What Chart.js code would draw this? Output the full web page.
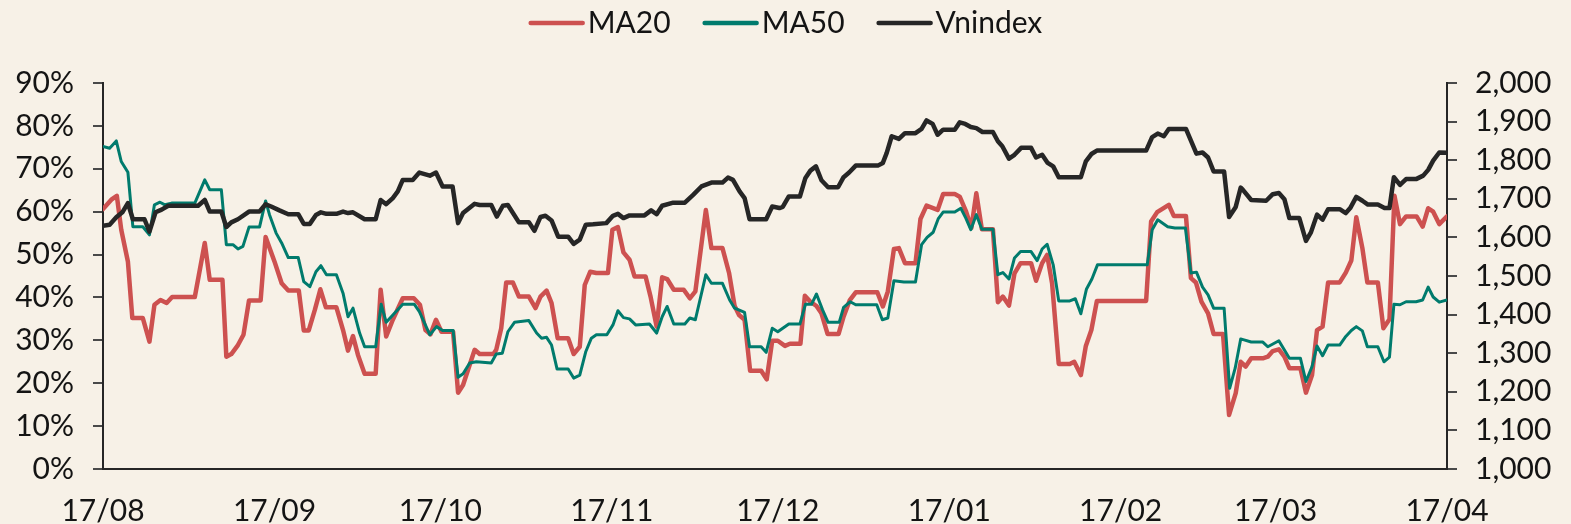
<!DOCTYPE html>
<html>
<head>
<meta charset="utf-8">
<title>MA20 / MA50 / Vnindex</title>
<script src="https://cdn.jsdelivr.net/npm/chart.js@4.4.1/dist/chart.umd.min.js"></script>
<style>
    html, body { margin: 0; padding: 0; background: #f7f1e7; }
    #wrap { width: 1571px; height: 524px; }
</style>
</head>
<body>
<div id="wrap"><canvas id="breadth-chart" width="1571" height="524"></canvas></div>
<script>
// x = days since 17/08
const monthDays = [0, 31, 61, 92, 122, 153, 184, 212, 243];
const monthLabels = ['17/08', '17/09', '17/10', '17/11', '17/12', '17/01', '17/02', '17/03', '17/04'];

// % of stocks above MA20
const ma20 = [
    [0, 60.6], [1.5, 62.8], [2.5, 63.7], [3.3, 55.8], [4.5, 48.4], [5.3, 35.2], [7.2, 35.2], [8.4, 29.7],
    [9.3, 38.3], [10.4, 39.4], [11.5, 38.7], [12.5, 40.1], [16.6, 40.1], [18.4, 52.7], [19.3, 44.1], [21.6, 44.1],
    [22.3, 26.2], [23.2, 26.8], [24.4, 28.9], [25.4, 31.3], [26.4, 39.3], [28.5, 39.3], [29.4, 54.1], [31.0, 48.4],
    [32.3, 43.3], [33.5, 41.6], [35.4, 41.6], [36.3, 32.3], [37.2, 32.3], [38.3, 37.1], [39.3, 41.9], [40.3, 37.7],
    [42.2, 37.7], [43.4, 32.4], [44.3, 27.6], [45.2, 31.0], [46.1, 26.6], [47.3, 22.2], [49.3, 22.2], [50.2, 41.8],
    [51.2, 30.9], [52.4, 34.8], [54.2, 39.8], [56.2, 39.8], [57.3, 38.3], [58.3, 32.4], [59.2, 31.4], [60.2, 34.8],
    [61.2, 32.0], [63.3, 32.0], [64.2, 17.8], [65.1, 19.6], [66.2, 23.9], [67.2, 27.8], [68.1, 26.8], [70.6, 26.8],
    [71.1, 27.8], [72.0, 32.8], [72.9, 43.5], [74.1, 43.5], [75.2, 40.2], [77.0, 40.2], [78.2, 37.5], [79.1, 40.2],
    [80.2, 41.6], [81.1, 38.7], [82.2, 30.5], [84.1, 30.5], [85.1, 26.8], [86.2, 28.5], [87.1, 42.9], [88.1, 46.0],
    [89.2, 45.7], [91.3, 45.7], [92.1, 55.8], [93.1, 56.4], [94.1, 50.5], [95.2, 48.8], [96.1, 44.9], [98.1, 44.9],
    [99.0, 40.2], [100.1, 33.2], [101.1, 44.7], [102.0, 44.3], [103.2, 41.8], [105.0, 41.8], [106.1, 39.8], [107.1, 41.4],
    [109.0, 60.4], [110.0, 51.5], [112.0, 51.5], [113.2, 45.7], [114.2, 38.0], [115.0, 35.9], [116.0, 34.8], [117.0, 22.9],
    [119.0, 22.9], [120.0, 20.9], [121.0, 29.9], [122.0, 29.9], [123.3, 28.7], [124.2, 29.2], [126.1, 29.2], [126.9, 40.4],
    [127.9, 39.0], [129.0, 38.0], [129.9, 36.3], [131.0, 31.5], [133.0, 31.5], [133.9, 35.5], [135.0, 39.3], [136.1, 41.2],
    [140.0, 41.2], [141.0, 37.9], [141.9, 41.4], [143.0, 51.3], [143.9, 51.5], [145.0, 48.0], [146.9, 48.0], [147.8, 58.3],
    [148.9, 61.4], [150.9, 60.4], [151.9, 64.1], [154.0, 64.1], [154.9, 63.5], [156.0, 60.2], [157.0, 56.2], [157.9, 64.3],
    [158.9, 55.9], [160.9, 55.9], [161.8, 38.9], [162.7, 40.2], [163.8, 38.1], [164.8, 45.6], [165.9, 48.0], [167.8, 48.0],
    [168.7, 43.9], [169.8, 48.0], [170.7, 49.9], [171.6, 43.3], [172.8, 24.5], [174.8, 24.5], [175.6, 25.0], [176.8, 21.9],
    [177.7, 28.7], [178.7, 32.4], [179.7, 39.2], [188.6, 39.2], [189.5, 57.7], [190.6, 59.9], [192.7, 61.6], [193.6, 59.0],
    [195.8, 59.0], [196.7, 44.5], [197.6, 43.5], [198.6, 39.0], [199.8, 36.3], [200.8, 31.5], [202.5, 31.5], [203.6, 12.6],
    [204.8, 17.7], [205.7, 25.0], [206.6, 23.9], [207.6, 25.8], [209.7, 25.8], [210.6, 26.2], [211.5, 27.5], [212.6, 27.9],
    [213.6, 26.2], [214.5, 23.5], [216.5, 23.5], [217.5, 17.8], [218.6, 21.9], [219.5, 32.4], [220.5, 33.2], [221.5, 43.5],
    [223.6, 43.5], [224.7, 45.8], [225.7, 48.6], [226.6, 58.7], [227.7, 51.5], [228.6, 43.5], [230.5, 43.5], [231.5, 32.8],
    [232.6, 34.9], [233.5, 63.7], [234.5, 57.1], [235.6, 58.9], [237.5, 58.9], [238.6, 56.5], [239.6, 60.8], [240.5, 60.0],
    [241.6, 57.1], [243, 58.9]
];

// % of stocks above MA50
const ma50 = [
    [0, 75.2], [1.2, 74.8], [2.4, 76.5], [3.3, 71.7], [4.5, 69.2], [5.4, 56.5], [7.2, 56.5], [8.4, 54.6],
    [9.3, 61.6], [10.3, 62.2], [11.2, 61.6], [12.4, 62.0], [16.6, 62.0], [18.4, 67.4], [19.3, 65.1], [21.4, 65.1],
    [22.3, 52.3], [23.5, 52.3], [24.4, 51.3], [25.3, 51.9], [26.4, 56.4], [28.3, 56.4], [29.4, 62.5], [30.1, 59.3],
    [31.3, 55.0], [32.3, 52.7], [33.5, 49.3], [35.3, 49.3], [36.3, 43.7], [37.4, 42.5], [38.5, 46.0], [39.4, 47.4],
    [40.4, 45.3], [42.2, 45.3], [43.4, 41.0], [44.3, 35.5], [45.2, 37.5], [46.4, 31.7], [47.3, 28.5], [49.3, 28.5],
    [50.3, 38.4], [51.2, 34.2], [54.2, 38.4], [56.3, 38.4], [57.2, 36.7], [59.1, 31.3], [60.3, 33.2], [61.4, 32.3],
    [63.3, 32.3], [64.2, 21.4], [65.1, 22.2], [66.3, 24.7], [67.5, 25.0], [70.2, 24.7], [71.1, 26.8], [72.2, 27.0],
    [73.2, 32.0], [74.4, 34.2], [77.0, 34.6], [78.4, 31.7], [79.3, 30.5], [80.2, 30.7], [81.1, 28.9], [82.1, 23.3],
    [84.1, 23.3], [85.1, 21.2], [86.2, 21.9], [87.3, 27.4], [88.3, 30.5], [89.2, 31.3], [91.1, 31.3], [92.2, 33.6],
    [93.1, 36.9], [94.1, 35.3], [95.2, 35.0], [96.3, 33.6], [98.8, 33.8], [100.1, 31.7], [101.1, 35.5], [102.0, 37.9],
    [103.2, 33.8], [105.2, 33.8], [106.1, 35.2], [107.1, 34.8], [109.0, 45.3], [110.0, 43.3], [112.0, 43.3], [113.3, 39.4],
    [114.2, 37.5], [116.0, 36.5], [116.9, 28.5], [119.0, 28.5], [119.9, 27.2], [121.0, 32.8], [122.0, 32.0], [124.0, 33.8],
    [126.0, 33.8], [127.0, 38.4], [128.1, 38.4], [129.0, 40.8], [130.1, 37.1], [131.1, 34.2], [133.1, 34.2], [133.9, 37.7],
    [135.1, 39.0], [136.1, 38.3], [139.9, 38.3], [140.9, 34.8], [141.9, 35.2], [143.0, 43.9], [144.8, 43.6], [146.9, 43.6],
    [148.0, 52.3], [149.0, 54.0], [150.1, 55.2], [151.0, 58.3], [151.9, 59.9], [154.0, 59.9], [155.1, 60.8], [156.0, 58.5],
    [156.9, 55.8], [157.9, 59.3], [158.9, 55.9], [160.9, 55.9], [161.8, 45.3], [162.7, 45.8], [163.8, 44.3], [164.8, 49.2],
    [165.9, 50.7], [167.8, 50.7], [168.9, 48.6], [169.8, 51.3], [170.7, 52.4], [171.8, 47.6], [172.8, 39.2], [174.8, 39.2],
    [175.8, 39.7], [176.8, 36.2], [177.8, 41.9], [178.8, 44.3], [179.8, 47.6], [188.8, 47.6], [189.7, 55.8], [190.7, 58.1],
    [192.5, 56.5], [193.8, 56.2], [195.7, 56.2], [196.7, 45.7], [197.7, 45.9], [198.8, 42.4], [199.8, 40.6], [200.8, 37.5],
    [202.7, 37.5], [203.7, 18.8], [204.7, 23.5], [205.7, 30.3], [206.3, 30.1], [207.6, 29.6], [209.7, 29.6], [210.6, 28.5],
    [212.6, 29.9], [214.5, 25.8], [216.5, 25.8], [217.5, 20.4], [218.6, 23.9], [219.5, 28.7], [220.5, 26.4], [221.5, 28.9],
    [223.6, 28.9], [224.7, 30.9], [225.7, 32.3], [226.6, 33.2], [227.7, 32.2], [228.6, 28.5], [230.5, 28.5], [231.6, 25.0],
    [232.6, 26.1], [233.4, 38.4], [234.5, 38.3], [235.6, 39.0], [237.4, 39.0], [238.6, 39.4], [239.6, 42.4], [240.5, 40.1],
    [241.6, 38.9], [243, 39.4]
];

// Vnindex, right axis
const vnindex = [
    [0, 1630], [1.2, 1633], [2.4, 1652], [3.5, 1665], [4.5, 1689], [5.4, 1647], [7.5, 1647], [8.4, 1615],
    [9.5, 1665], [10.6, 1672], [11.8, 1682], [17.2, 1682], [18.4, 1697], [19.3, 1667], [21.4, 1667], [22.3, 1627],
    [23.2, 1639], [24.4, 1647], [26.4, 1667], [28.3, 1667], [29.4, 1686], [30.4, 1680], [31.9, 1670], [33.5, 1660],
    [35.3, 1660], [36.3, 1635], [37.4, 1635], [38.5, 1658], [39.4, 1665], [40.4, 1661], [42.2, 1661], [43.4, 1667],
    [44.3, 1663], [45.2, 1665], [47.3, 1647], [49.3, 1647], [50.2, 1697], [51.2, 1686], [52.4, 1702], [53.3, 1719],
    [54.2, 1749], [56.0, 1749], [57.2, 1768], [59.1, 1760], [60.2, 1768], [61.4, 1732], [63.2, 1732], [64.2, 1637],
    [65.1, 1663], [67.2, 1687], [68.1, 1684], [70.2, 1684], [71.2, 1654], [72.3, 1682], [73.2, 1684], [75.2, 1639],
    [77.0, 1639], [78.0, 1617], [79.1, 1653], [80.0, 1656], [81.1, 1644], [82.3, 1602], [84.1, 1602], [85.1, 1583],
    [86.2, 1594], [87.3, 1633], [88.6, 1634], [91.0, 1637], [92.2, 1656], [93.1, 1661], [94.1, 1650], [95.2, 1657],
    [97.9, 1657], [99.1, 1670], [100.1, 1660], [101.1, 1682], [103.1, 1690], [105.2, 1690], [106.7, 1710], [108.2, 1732],
    [110.0, 1742], [112.0, 1742], [113.0, 1755], [113.9, 1749], [115.1, 1719], [116.0, 1702], [116.9, 1647], [119.9, 1647],
    [121.0, 1680], [122.3, 1676], [122.9, 1679], [124.0, 1706], [126.0, 1706], [127.0, 1754], [127.9, 1773], [128.9, 1784],
    [129.9, 1748], [131.1, 1730], [132.9, 1730], [133.9, 1756], [134.9, 1768], [136.1, 1786], [140.1, 1786], [141.0, 1793],
    [141.7, 1819], [142.6, 1862], [143.9, 1855], [145.0, 1870], [146.9, 1870], [148.0, 1881], [148.9, 1903], [150.0, 1894],
    [150.9, 1866], [151.9, 1879], [154.0, 1879], [154.9, 1898], [155.9, 1894], [156.9, 1886], [157.9, 1883], [159.0, 1873],
    [160.9, 1873], [161.8, 1849], [162.6, 1836], [163.8, 1804], [164.8, 1814], [166.0, 1832], [167.8, 1832], [168.7, 1807],
    [169.8, 1814], [170.8, 1793], [171.8, 1784], [172.8, 1756], [176.8, 1756], [177.7, 1797], [178.7, 1816], [179.7, 1825],
    [188.6, 1825], [189.7, 1860], [190.7, 1869], [191.8, 1862], [192.7, 1881], [195.8, 1881], [197.7, 1817], [198.8, 1820],
    [199.8, 1807], [200.8, 1771], [202.7, 1771], [203.6, 1653], [204.8, 1679], [205.7, 1729], [206.1, 1723], [207.6, 1697],
    [210.3, 1695], [211.5, 1712], [212.6, 1715], [213.6, 1699], [214.5, 1650], [216.3, 1650], [217.5, 1591], [218.4, 1613],
    [219.5, 1659], [220.5, 1646], [221.5, 1673], [223.6, 1673], [224.7, 1663], [225.5, 1676], [226.6, 1705], [227.7, 1695],
    [228.7, 1685], [230.5, 1685], [231.7, 1676], [232.6, 1676], [233.4, 1756], [234.5, 1736], [235.6, 1751], [237.4, 1751],
    [238.7, 1760], [239.6, 1775], [240.5, 1799], [241.6, 1820], [243, 1819]
];

const TEXT = '#141414';
const AXIS = '#262626';
const TICK = '#4a4a4a';

Chart.defaults.font.family = 'Lato';
Chart.defaults.font.size = 30;
Chart.defaults.color = TEXT;

// legend drawn by hand: short line, small gap, label
const lineLegend = {
    id: 'lineLegend',
    afterDraw(chart, args, opts) {
        const ctx = chart.ctx;
        ctx.save();
        ctx.font = `${opts.fontSize}px Lato`;
        const items = chart.data.datasets.map(ds => ({
            text: ds.label,
            color: ds.borderColor,
            width: opts.lineLength + opts.gap + ctx.measureText(ds.label).width
        }));
        const total = items.reduce((s, it) => s + it.width, 0) + opts.spacing * (items.length - 1);
        let x = (chart.width - total) / 2;
        items.forEach(it => {
            ctx.strokeStyle = it.color;
            ctx.lineWidth = opts.lineWidth;
            ctx.lineCap = 'round';
            ctx.beginPath();
            ctx.moveTo(x + 2, opts.lineY);
            ctx.lineTo(x + opts.lineLength - 2, opts.lineY);
            ctx.stroke();
            ctx.fillStyle = TEXT;
            ctx.textBaseline = 'alphabetic';
            ctx.fillText(it.text, x + opts.lineLength + opts.gap, opts.textY);
            x += it.width + opts.spacing;
        });
        ctx.restore();
    }
};

function drawChart() {
    const ctx = document.getElementById('breadth-chart');

    new Chart(ctx, {
        type: 'line',
        data: {
            datasets: [
                {
                    label: 'MA20',
                    data: ma20,
                    yAxisID: 'y',
                    borderColor: '#cd5150',
                    borderWidth: 4.5,
                    order: 3
                },
                {
                    label: 'MA50',
                    data: ma50,
                    yAxisID: 'y',
                    borderColor: '#007b6d',
                    borderWidth: 3,
                    order: 2
                },
                {
                    label: 'Vnindex',
                    data: vnindex,
                    yAxisID: 'y1',
                    borderColor: '#262626',
                    borderWidth: 4.5,
                    order: 1
                }
            ]
        },
        options: {
            responsive: false,
            animation: false,
            devicePixelRatio: 1,
            layout: { padding: { top: 83, left: 0, right: 0, bottom: 0 } },
            elements: {
                point: { radius: 0, hoverRadius: 0 },
                line: { tension: 0, borderJoinStyle: 'round', borderCapStyle: 'round', fill: false }
            },
            plugins: {
                legend: { display: false },
                tooltip: { enabled: false },
                lineLegend: {
                    fontSize: 30,
                    lineLength: 56,
                    lineWidth: 4.5,
                    lineY: 23,
                    textY: 33,
                    gap: 3,
                    spacing: 32
                }
            },
            scales: {
                x: {
                    type: 'linear',
                    min: 0,
                    max: 243,
                    afterBuildTicks: scale => {
                        scale.ticks = monthDays.map(v => ({ value: v }));
                    },
                    afterFit: scale => { scale.height = 55; },
                    ticks: {
                        autoSkip: false,
                        maxRotation: 0,
                        padding: 16,
                        color: TEXT,
                        callback: (value, index) => monthLabels[index]
                    },
                    grid: { display: false },
                    border: { display: true, color: AXIS, width: 2 }
                },
                y: {
                    position: 'left',
                    min: 0,
                    max: 90,
                    afterFit: scale => { scale.width = 103; },
                    ticks: {
                        stepSize: 10,
                        autoSkip: false,
                        padding: 19,
                        color: TEXT,
                        callback: v => v + '%'
                    },
                    grid: { drawOnChartArea: false, drawTicks: true, tickLength: 10, color: TICK, lineWidth: 2 },
                    border: { color: AXIS, width: 2 }
                },
                y1: {
                    position: 'right',
                    min: 1000,
                    max: 2000,
                    afterFit: scale => { scale.width = 124; },
                    ticks: {
                        stepSize: 100,
                        autoSkip: false,
                        padding: 18,
                        color: TEXT,
                        callback: v => v.toLocaleString('en-US')
                    },
                    grid: { drawOnChartArea: false, drawTicks: true, tickLength: 10, color: TICK, lineWidth: 2 },
                    border: { color: AXIS, width: 2 }
                }
            }
        },
        plugins: [lineLegend]
    });
}

if (document.fonts && document.fonts.load) {
    document.fonts.load('30px Lato').then(drawChart, drawChart);
} else {
    drawChart();
}
</script>
</body>
</html>
